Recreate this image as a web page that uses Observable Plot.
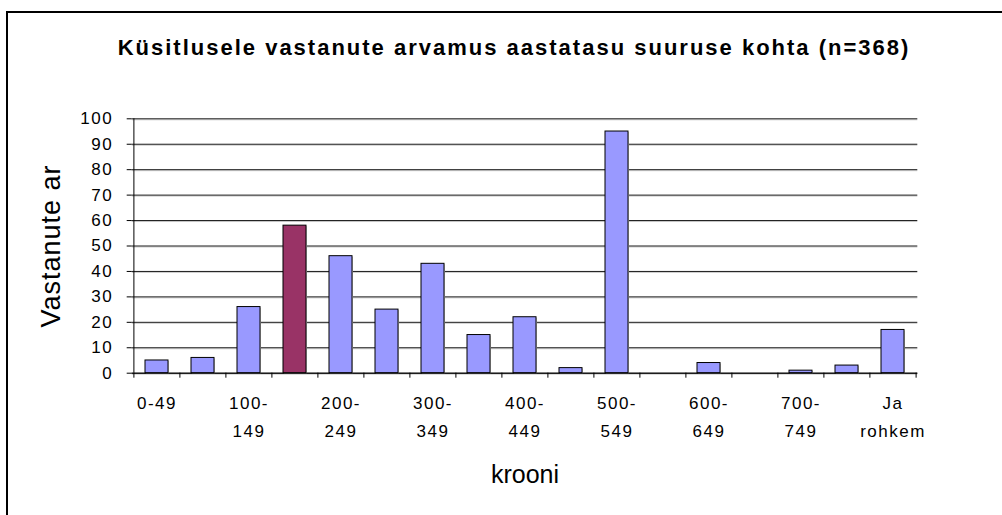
<!DOCTYPE html>
<html>
<head>
<meta charset="utf-8">
<script src="https://cdn.jsdelivr.net/npm/d3@7"></script>
<script src="https://cdn.jsdelivr.net/npm/@observablehq/plot@0.6"></script>
<style>
  html, body { margin: 0; padding: 0; background: #fff; overflow: hidden; }
  #wrap { position: relative; width: 1002px; height: 515px; }
  #border { position: absolute; left: 6px; top: 11px; width: 1100px; height: 600px; border: 2px solid #000; box-sizing: border-box; }
  #chart { position: absolute; left: 0; top: 0; }
  svg text { font-family: "Liberation Sans", Arial, sans-serif; }
</style>
</head>
<body>
<div id="wrap"><div id="border"></div><div id="chart"></div></div>
<script>
const title = "Küsitlusele vastanute arvamus aastatasu suuruse kohta (n=368)";
const yLabel = "Vastanute ar";
const xLabel = "krooni";
const categories = ["0-49","50-99","100-149","150-199","200-249","250-299","300-349","350-399","400-449","450-499","500-549","550-599","600-649","650-699","700-749","750-799","Ja rohkem"];
const counts = [5, 6, 26, 58, 46, 25, 43, 15, 22, 2, 95, 0, 4, 0, 1, 3, 17];
const tickLabels = ["0-49","","100-\n149","","200-\n249","","300-\n349","","400-\n449","","500-\n549","","600-\n649","","700-\n749","","Ja\nrohkem"];
const yTicks = [0,10,20,30,40,50,60,70,80,90,100];
const highlighted = "150-199";

const data = categories.map((c, i) => ({category: c, count: counts[i]}));
const labelOf = new Map(categories.map((c, i) => [c, tickLabels[i]]));

const W = 1002, H = 515;
const mL = 131.7, mR = 84.7, mT = 118.3, mB = 142.3;
const step = (W - mL - mR) / categories.length;

const chart = Plot.plot({
  width: W, height: H,
  marginLeft: mL, marginRight: mR, marginTop: mT, marginBottom: mB,
  style: {fontFamily: "Liberation Sans, Arial, sans-serif", background: "transparent", color: "#000"},
  x: {domain: categories, type: "band", paddingInner: 0.5, paddingOuter: 0.25, axis: null},
  y: {domain: [0, 100], axis: null},
  marks: [
    Plot.gridY(yTicks, {stroke: "#ccc", strokeOpacity: 1, dy: 1}),
    Plot.gridY(yTicks, {stroke: "#1a1a1a", strokeOpacity: 1}),
    Plot.barY(data, {x: "category", y: "count", dx: 1, dy: 1, fill: "#c8c8c8"}),
    Plot.barY(data, {x: "category", y: "count", fill: d => d.category === highlighted ? "#993366" : "#9999FF", stroke: "#000", strokeWidth: 1}),
    Plot.ruleY([0], {stroke: "#000"}),
    Plot.ruleX([categories[0]], {dx: -step / 2, stroke: "#000"}),
    Plot.axisY({ticks: yTicks, tickSize: 5, tickPadding: 14, fontSize: 17, stroke: "#000", label: null}),
    Plot.axisX({tickSize: 5, dx: -step / 2, text: null, stroke: "#000", label: null}),
    Plot.axisX({ticks: [categories[categories.length - 1]], tickSize: 5, dx: step / 2, text: null, stroke: "#000", label: null}),
    Plot.axisX({tickSize: 0, tickPadding: 16, fontSize: 17, lineHeight: 1.65, tickFormat: d => labelOf.get(d), fill: "#000", label: null}),
    Plot.text([title], {frameAnchor: "top", dx: -11, dy: -71.3, fontSize: 22, fontWeight: "bold", fill: "#000", lineAnchor: "middle", textAnchor: "middle"}),
    Plot.text([yLabel], {frameAnchor: "left", dx: -81.3, rotate: -90, fontSize: 27, fill: "#000", lineAnchor: "middle", textAnchor: "middle"}),
    Plot.text([xLabel], {frameAnchor: "bottom", dy: 102, fontSize: 25, fill: "#000", lineAnchor: "middle", textAnchor: "middle"})
  ]
});
document.getElementById("chart").appendChild(chart);

// Spacing of the glyphs, as in the reference's rendering
d3.select(chart).selectAll('g[aria-label="x-axis tick label"] text').style("letter-spacing", "1.5px");
d3.select(chart).selectAll('g[aria-label="y-axis tick label"] text').style("letter-spacing", "1.5px");
d3.select(chart).selectAll('g[aria-label="text"] text').each(function() {
  const t = this.textContent;
  if (t === title) d3.select(this).style("letter-spacing", "2px");
  else if (t === yLabel) d3.select(this).style("letter-spacing", "1px");
});
</script>
</body>
</html>
